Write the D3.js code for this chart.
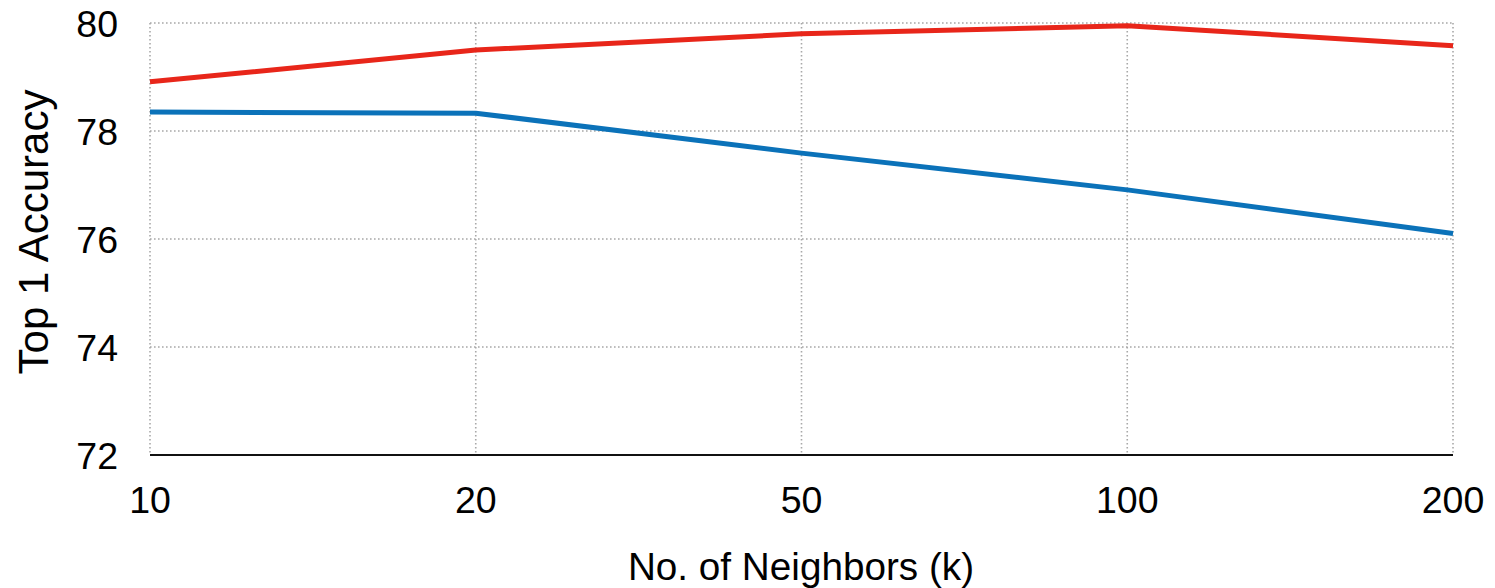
<!DOCTYPE html>
<html>
<head>
<meta charset="utf-8">
<script src="https://cdn.jsdelivr.net/npm/d3@7"></script>
<style>
  html, body { margin: 0; padding: 0; background: #fff; }
  svg { display: block; }
  text { font-family: "Liberation Sans", Arial, Helvetica, sans-serif; fill: #000; }
</style>
</head>
<body>
<svg id="chart" width="1495" height="588"></svg>
<script>
// Number of neighbours k (evenly spaced categories)
const neighbors = ["10", "20", "50", "100", "200"];
// Top-1 accuracy per k
const redSeries = [78.91, 79.5, 79.8, 79.95, 79.58];
const blueSeries = [78.35, 78.33, 77.59, 76.91, 76.1];
const yTicks = [72, 74, 76, 78, 80];

const svg = d3.select("#chart");
const margin = { left: 150, right: 42, top: 23, bottom: 133 };
const W = 1495, H = 588;

const x = d3.scalePoint().domain(neighbors).range([margin.left, W - margin.right]);
const y = d3.scaleLinear().domain([72, 80]).range([H - margin.bottom, margin.top]);

// Dotted grid
const grid = svg.append("g").attr("stroke", "#a8a8a8").attr("stroke-width", 1.6)
  .attr("stroke-dasharray", "1.6,2.4");
grid.selectAll("line.h").data(yTicks.filter(d => d > 72)).join("line")
  .attr("x1", margin.left).attr("x2", W - margin.right)
  .attr("y1", d => y(d)).attr("y2", d => y(d));
grid.selectAll("line.v").data(neighbors).join("line")
  .attr("x1", d => x(d)).attr("x2", d => x(d))
  .attr("y1", y(80)).attr("y2", y(72));

// Bottom axis line
svg.append("line")
  .attr("x1", margin.left).attr("x2", W - margin.right)
  .attr("y1", y(72)).attr("y2", y(72))
  .attr("stroke", "#111").attr("stroke-width", 2);

// Y tick labels
svg.append("g").selectAll("text").data(yTicks).join("text")
  .attr("x", 118).attr("y", d => y(d) + 14)
  .attr("text-anchor", "end").attr("font-size", 37.5)
  .text(d => d);

// X tick labels
svg.append("g").selectAll("text").data(neighbors).join("text")
  .attr("x", d => x(d)).attr("y", 513)
  .attr("text-anchor", "middle").attr("font-size", 37.5)
  .text(d => d);

// Axis titles
svg.append("text")
  .attr("x", 801).attr("y", 580)
  .attr("text-anchor", "middle").attr("font-size", 38.7)
  .text("No. of Neighbors (k)");
svg.append("text")
  .attr("transform", `translate(48,232) rotate(-90)`)
  .attr("text-anchor", "middle").attr("font-size", 42)
  .text("Top 1 Accuracy");

// Series lines
const line = d3.line().x((d, i) => x(neighbors[i])).y(d => y(d));
svg.append("path").datum(blueSeries).attr("d", line)
  .attr("fill", "none").attr("stroke", "#0b72b9").attr("stroke-width", 5)
  .attr("stroke-linejoin", "round");
svg.append("path").datum(redSeries).attr("d", line)
  .attr("fill", "none").attr("stroke", "#e8261a").attr("stroke-width", 5)
  .attr("stroke-linejoin", "round");
</script>
</body>
</html>
